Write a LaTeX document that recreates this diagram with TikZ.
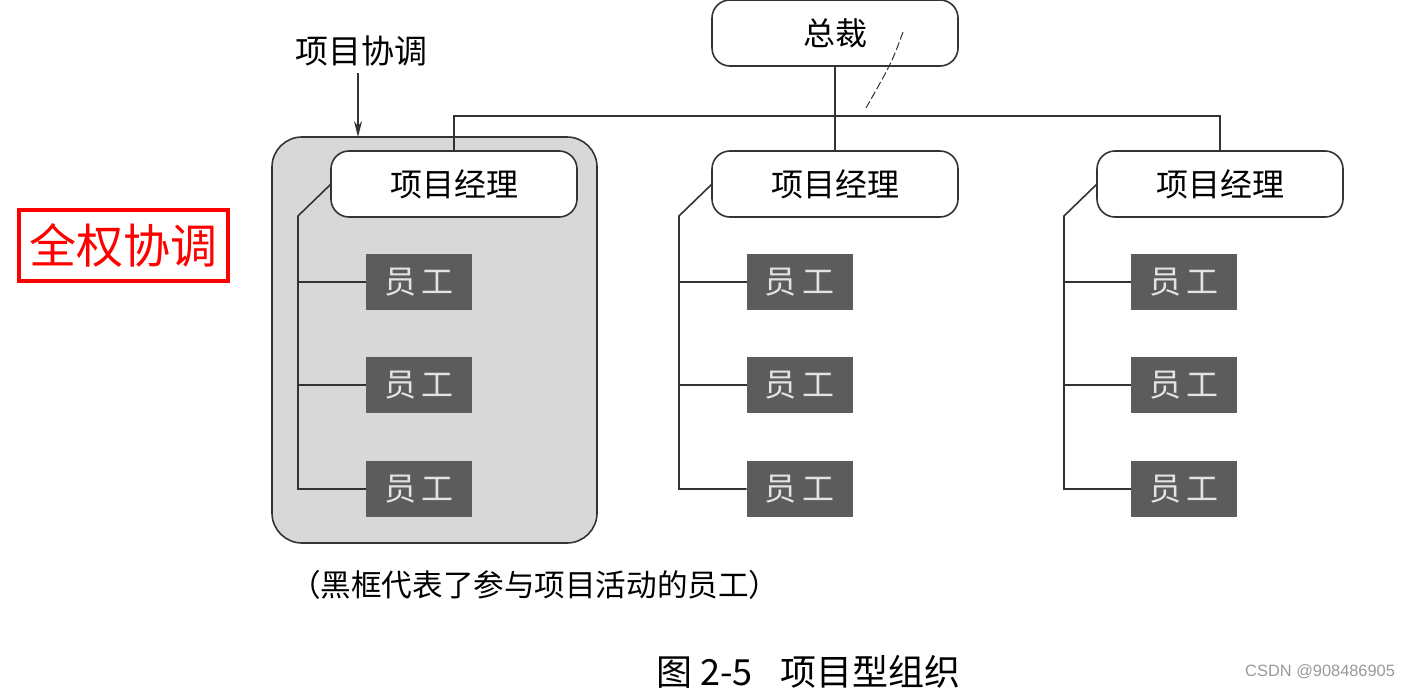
\documentclass[tikz,border=0pt]{standalone}
\usepackage{fontspec}
\setmainfont{Noto Sans CJK SC}
\newfontfamily\wmfont{Liberation Sans}
\usetikzlibrary{positioning,arrows.meta}
\definecolor{panelgray}{HTML}{D8D8D8}
\definecolor{staffgray}{HTML}{5C5C5C}
\definecolor{linegray}{HTML}{333333}
\begin{document}
\begin{tikzpicture}[x=0.5pt, y=-0.5pt,
  every node/.style={inner sep=0pt, outer sep=0pt},
  line/.style={draw=linegray, line width=0.8pt},
  boss/.style={line, rounded corners=9pt, fill=white, minimum width=123pt, minimum height=33pt, font=\fontsize{16}{16}\selectfont},
  staff/.style={fill=staffgray, minimum width=53pt, minimum height=28pt, text=white!78!gray, font=\fontsize{16}{16}\selectfont},
  panel/.style={line, fill=panelgray, rounded corners=15pt, minimum width=162.5pt, minimum height=203pt}]
  \useasboundingbox (0,0) rectangle (1410,696);

  % Team area of the first project
  \node[panel] (team) at (434.5,340) {};

  % Top of the hierarchy
  \node[boss] (ceo) at (835,33) {总裁};
  \draw[line] (ceo.south) -- ++(0,50) coordinate (bus);

  % Project columns
  \foreach \c/\px/\sx in {1/454/419, 2/835/799.5, 3/1220/1184} {
    \node[boss] (pm\c) at (\px,184) {项目经理};
    \node[staff] (s\c1) at (\sx,282) {员\hspace{3pt}工};
    \node[staff] (s\c2) at (\sx,385) {员\hspace{3pt}工};
    \node[staff] (s\c3) at (\sx,489) {员\hspace{3pt}工};
    \draw[line] (pm\c.west) -- ++(-33,32) coordinate (t\c) -- (t\c |- s\c3.west) -- (s\c3.west);
    \draw[line] (s\c1.west) -- (s\c1.west -| t\c);
    \draw[line] (s\c2.west) -- (s\c2.west -| t\c);
  }
  \draw[line] (pm1.north) |- (bus) -| (pm3.north);
  \draw[line] (bus) -- (pm2.north);

  % Hint line from the CEO
  \coordinate (hinta) at (903,32);
  \coordinate (hintb) at (866,108);
  \draw[line, line width=0.5pt, dashed, dash pattern=on 4pt off 1.5pt] (hinta) .. controls (892,62) .. (hintb);

  % Coordination label
  \node[font=\fontsize{16.5}{16.5}\selectfont] (coord) at (361,51) {项目协调};
  \coordinate (arrtop) at (358,73);
  \draw[line, -{Stealth[length=8pt,width=4pt]}] (arrtop) -- (arrtop |- team.north);

  % Red mark
  \node[draw=red, line width=2pt, text=red, minimum width=104.5pt, minimum height=35.5pt, font=\fontsize{23.5}{23.5}\selectfont] (full) at (123.5,245.5) {全权协调};

  % Captions
  \node[anchor=west, font=\fontsize{15.3}{15.3}\selectfont] (note) at (290,585) {（黑框代表了参与项目活动的员工）};
  \node[anchor=west, font=\fontsize{18}{18}\selectfont] (title) at (656,672) {图 2-5\hspace{14pt}项目型组织};
  \node[anchor=east, text=black!40, font=\wmfont\fontsize{8.2}{8.2}\selectfont] (mark) at (1395,672) {CSDN @908486905};
\end{tikzpicture}
\end{document}
